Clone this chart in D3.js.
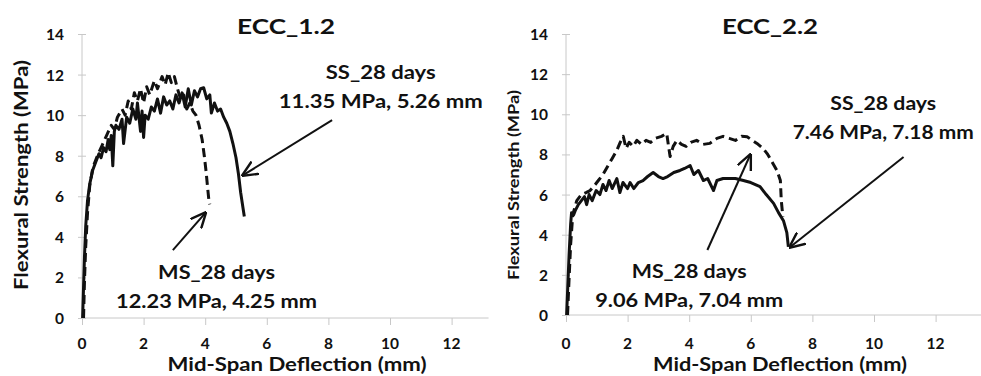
<!DOCTYPE html>
<html>
<head>
<meta charset="utf-8">
<script src="https://cdn.jsdelivr.net/npm/d3@7"></script>
<style>
  body { margin: 0; background: #fff; }
  svg { display: block; font-family: Lato, "Open Sans", sans-serif; }
  .tick-label { font-size: 15.5px; font-weight: 700; fill: #111; }
  .axis-title { font-weight: 700; fill: #111; }
  .panel-title { font-size: 21px; font-weight: 700; fill: #111; }
  .note { font-size: 18px; font-weight: 700; fill: #111; }
</style>
</head>
<body>
<div id="chart"></div>
<script>
// Ticks shared by both panels
const xTicks = [0, 2, 4, 6, 8, 10, 12];
const yTicks = [0, 2, 4, 6, 8, 10, 12, 14];

// ECC_1.2 curves [deflection mm, strength MPa]
const ecc12SS = [
  [0.02, 0], [0.05, 1.5], [0.08, 3], [0.12, 4.5], [0.18, 5.8], [0.25, 6.6], [0.35, 7.3],
  [0.45, 7.7], [0.55, 8.1], [0.62, 7.9], [0.7, 8.4], [0.78, 8.2], [0.85, 8.8], [0.9, 8.3],
  [0.95, 9.0], [1.0, 7.5], [1.05, 9.2], [1.1, 9.5], [1.2, 9.3], [1.3, 9.8], [1.35, 8.6],
  [1.45, 9.9], [1.55, 9.6], [1.65, 10.3], [1.75, 9.8], [1.8, 10.6], [1.9, 9.2], [1.95, 10.2],
  [2.0, 8.9], [2.05, 10.0], [2.15, 9.8], [2.25, 10.4], [2.35, 10.2], [2.45, 10.8], [2.55, 10.1],
  [2.65, 10.9], [2.75, 10.5], [2.85, 10.7], [2.95, 10.3], [3.05, 11.0], [3.15, 10.6], [3.25, 11.1],
  [3.35, 10.4], [3.45, 11.3], [3.55, 10.5], [3.65, 11.2], [3.75, 10.9], [3.85, 11.3], [3.95, 11.35],
  [4.05, 10.8], [4.15, 11.0], [4.2, 10.1], [4.3, 10.6], [4.4, 10.2], [4.5, 10.3], [4.6, 9.9],
  [4.7, 9.6], [4.8, 9.2], [4.9, 8.6], [5.0, 7.9], [5.08, 7.1], [5.15, 6.2], [5.22, 5.5], [5.27, 5.0]
];
const ecc12MS = [
  [0.05, 0], [0.08, 1.8], [0.12, 3.5], [0.18, 5.2], [0.25, 6.5], [0.35, 7.4], [0.5, 8.0],
  [0.65, 8.5], [0.8, 9.0], [0.95, 9.5], [1.05, 9.3], [1.15, 9.9], [1.3, 10.3], [1.4, 10.0],
  [1.5, 10.7], [1.6, 10.3], [1.7, 11.1], [1.8, 10.7], [1.9, 11.3], [2.0, 10.6], [2.1, 11.4],
  [2.2, 11.0], [2.35, 11.7], [2.45, 11.3], [2.6, 11.9], [2.7, 11.5], [2.8, 12.1], [2.9, 11.6],
  [3.0, 11.9], [3.1, 11.3], [3.2, 10.8], [3.3, 11.0], [3.4, 10.3], [3.5, 10.6], [3.6, 10.2],
  [3.7, 10.0], [3.8, 9.5], [3.9, 8.8], [3.97, 8.0], [4.03, 7.2], [4.08, 6.4], [4.12, 5.8], [4.15, 5.6]
];

// ECC_2.2 curves
const ecc22SS = [
  [0.02, 0], [0.06, 1.5], [0.1, 3.0], [0.15, 4.5], [0.18, 5.1], [0.25, 5.0], [0.3, 5.2],
  [0.4, 5.5], [0.5, 5.7], [0.6, 5.9], [0.67, 5.5], [0.75, 6.0], [0.85, 5.7], [0.98, 6.2],
  [1.1, 6.0], [1.2, 6.5], [1.3, 6.2], [1.4, 6.7], [1.5, 6.3], [1.65, 6.8], [1.75, 6.1],
  [1.85, 6.6], [2.0, 6.3], [2.08, 6.6], [2.2, 6.3], [2.35, 6.6], [2.5, 6.7], [2.65, 6.9],
  [2.83, 7.1], [3.0, 6.9], [3.15, 6.8], [3.3, 6.9], [3.5, 7.1], [3.7, 7.2], [3.85, 7.3],
  [4.03, 7.45], [4.15, 7.0], [4.3, 7.2], [4.46, 6.7], [4.6, 6.8], [4.79, 6.2], [4.9, 6.7],
  [5.1, 6.8], [5.3, 6.8], [5.5, 6.8], [5.76, 6.7], [6.0, 6.6], [6.3, 6.4], [6.5, 6.0],
  [6.74, 5.56], [6.9, 5.1], [7.06, 4.7], [7.17, 4.1], [7.22, 3.4]
];
const ecc22MS = [
  [0.05, 0], [0.1, 1.8], [0.15, 3.5], [0.22, 5.0], [0.35, 5.7], [0.5, 6.0], [0.65, 6.1],
  [0.78, 6.2], [0.95, 6.5], [1.05, 6.7], [1.2, 7.0], [1.35, 7.4], [1.5, 7.8], [1.65, 8.2],
  [1.76, 8.6], [1.86, 8.9], [1.95, 8.3], [2.05, 8.6], [2.18, 8.4], [2.3, 8.7], [2.45, 8.5],
  [2.6, 8.7], [2.75, 8.6], [2.9, 8.8], [3.1, 8.9], [3.27, 9.05], [3.33, 8.4], [3.38, 7.9],
  [3.48, 8.4], [3.6, 8.7], [3.75, 8.5], [3.9, 8.4], [4.05, 8.6], [4.24, 8.7], [4.45, 8.5],
  [4.67, 8.55], [4.9, 8.8], [5.1, 8.9], [5.3, 8.8], [5.5, 8.7], [5.7, 8.9], [5.88, 8.88],
  [6.05, 8.7], [6.2, 8.55], [6.4, 8.3], [6.55, 8.0], [6.7, 7.6], [6.85, 7.2], [6.96, 6.7],
  [6.99, 5.7], [7.04, 4.9]
];

// Annotations: text lines with their widths, label anchor and arrow (data units)
const notes12 = [
  { lines: ["SS_28 days", "11.35 MPa, 5.26 mm"], widths: [110, 204], at: [9.7, 11.8], from: [8.12, 9.75], to: [5.23, 7.04] },
  { lines: ["MS_28 days", "12.23 MPa, 4.25 mm"], widths: [117, 201], at: [4.37, 1.9], from: [2.95, 3.35], to: [4.0, 5.17] }
];
const notes22 = [
  { lines: ["SS_28 days", "7.46 MPa, 7.18 mm"], widths: [106, 181], at: [10.3, 10.2], from: [10.96, 7.87], to: [7.28, 3.39] },
  { lines: ["MS_28 days", "9.06 MPa, 7.04 mm"], widths: [115, 188], at: [4.0, 1.85], from: [4.59, 3.24], to: [5.98, 7.97] }
];

const panels = [
  { title: "ECC_1.2", titleX: 286, titleW: 98, left: 82, xMax: 13.2, top: 34, bottom: 318,
    xtitleX: 297, xtitleW: 259, ytitleSize: 18, ytitleW: 230, ytitleX: 22, ytitleY: 175,
    ss: ecc12SS, ms: ecc12MS, notes: notes12 },
  { title: "ECC_2.2", titleX: 770, titleW: 96, left: 566, xMax: 13.5, top: 34, bottom: 315,
    xtitleX: 780, xtitleW: 254, ytitleSize: 15, ytitleW: 190, ytitleX: 513, ytitleY: 185,
    ss: ecc22SS, ms: ecc22MS, notes: notes22 }
];

const svg = d3.select("#chart").append("svg").attr("width", 981).attr("height", 376);

svg.append("defs").append("marker")
  .attr("id", "arrow")
  .attr("viewBox", "0 0 10 10")
  .attr("refX", 9).attr("refY", 5)
  .attr("markerWidth", 8).attr("markerHeight", 8)
  .attr("orient", "auto")
  .append("path")
  .attr("d", "M0,0.5 L10,5 L0,9.5")
  .attr("fill", "none")
  .attr("stroke", "#111")
  .attr("stroke-width", 1.5);

panels.forEach((p) => {
  const x = d3.scaleLinear().domain([0, p.xMax]).range([p.left, p.left + p.xMax * 30.8]);
  const y = d3.scaleLinear().domain([0, 14]).range([p.bottom, p.top]);
  const g = svg.append("g");

  // axes (light grey lines, labels drawn separately)
  const xAxis = g.append("g").attr("transform", `translate(0,${p.bottom})`)
    .call(d3.axisBottom(x).tickValues(xTicks).tickSize(7).tickFormat(""));
  xAxis.selectAll("line").attr("stroke", "#c8c8c8");
  xAxis.select(".domain").attr("stroke", "#c8c8c8").attr("d", `M${x(0)},0H${x(p.xMax)}`);

  const yAxis = g.append("g").attr("transform", `translate(${p.left},0)`)
    .call(d3.axisLeft(y).tickValues(yTicks).tickSize(4).tickFormat(""));
  yAxis.selectAll("line").attr("stroke", "#c8c8c8").attr("x2", 4).attr("x1", -4);
  yAxis.select(".domain").attr("stroke", "#c8c8c8").attr("d", `M0,${y(0)}V${y(14)}`);

  g.selectAll(".xl").data(xTicks).enter().append("text")
    .attr("class", "tick-label")
    .attr("x", (d) => x(d)).attr("y", 349)
    .attr("text-anchor", "middle").text((d) => d);

  g.selectAll(".yl").data(yTicks).enter().append("text")
    .attr("class", "tick-label")
    .attr("x", p.left - 18).attr("y", (d) => y(d) + 6)
    .attr("text-anchor", "end").text((d) => d);

  g.append("text").attr("class", "axis-title")
    .attr("x", p.xtitleX - p.xtitleW / 2).attr("y", 371)
    .attr("textLength", p.xtitleW).attr("lengthAdjust", "spacingAndGlyphs")
    .style("font-size", "19px")
    .text("Mid-Span Deflection (mm)");

  g.append("text").attr("class", "axis-title")
    .attr("transform", `translate(${p.ytitleX + 6},${p.ytitleY + p.ytitleW / 2}) rotate(-90)`)
    .attr("textLength", p.ytitleW).attr("lengthAdjust", "spacingAndGlyphs")
    .style("font-size", p.ytitleSize + "px")
    .text("Flexural Strength (MPa)");

  g.append("text").attr("class", "panel-title")
    .attr("x", p.titleX - p.titleW / 2).attr("y", 34)
    .attr("textLength", p.titleW).attr("lengthAdjust", "spacingAndGlyphs")
    .text(p.title);

  const line = d3.line().x((d) => x(d[0])).y((d) => y(d[1]));

  g.append("path").datum(p.ms)
    .attr("d", line).attr("fill", "none")
    .attr("stroke", "#111").attr("stroke-width", 3)
    .attr("stroke-dasharray", "9,5").attr("stroke-linejoin", "round");

  g.append("path").datum(p.ss)
    .attr("d", line).attr("fill", "none")
    .attr("stroke", "#111").attr("stroke-width", 3).attr("stroke-linejoin", "round");

  p.notes.forEach((n) => {
    const t = g.append("text").attr("class", "note");
    n.lines.forEach((s, i) => {
      t.append("tspan")
        .attr("x", x(n.at[0]) - n.widths[i] / 2).attr("y", y(n.at[1]) + i * 29)
        .attr("textLength", n.widths[i]).attr("lengthAdjust", "spacingAndGlyphs")
        .text(s);
    });
    g.append("line")
      .attr("x1", x(n.from[0])).attr("y1", y(n.from[1]))
      .attr("x2", x(n.to[0])).attr("y2", y(n.to[1]))
      .attr("stroke", "#111").attr("stroke-width", 2)
      .attr("marker-end", "url(#arrow)");
  });
});
</script>
</body>
</html>
